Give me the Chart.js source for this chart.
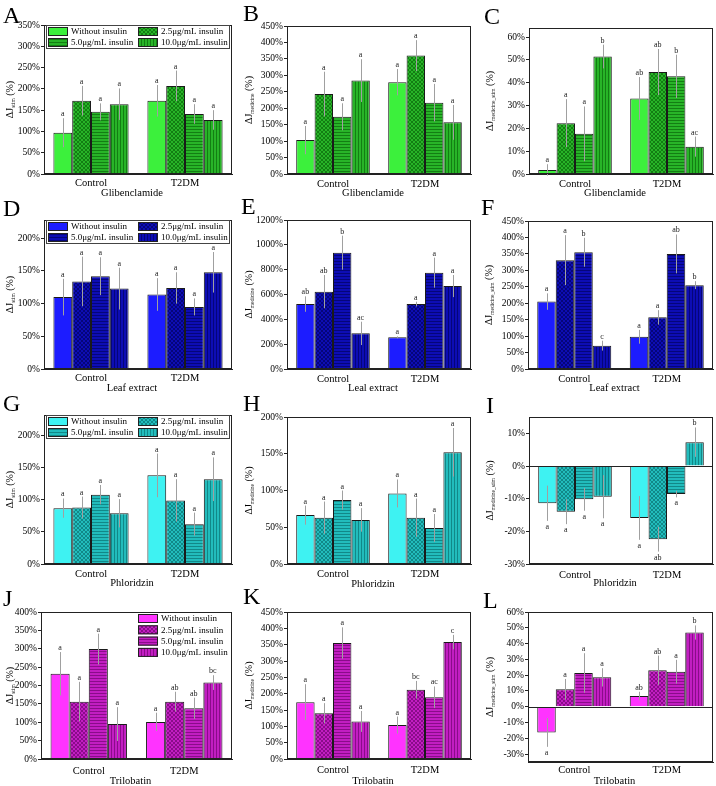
<!DOCTYPE html>
<html lang="en">
<head>
<meta charset="UTF-8">
<title>ΔJ with insulin – four medicines</title>
<script src="https://cdn.jsdelivr.net/npm/chart.js"></script>
<style>
  body { margin: 0; background: #fff; }
  #fig { position: relative; width: 716px; height: 786px; overflow: hidden; }
  #fig canvas { position: absolute; }
  .tag { position: absolute; font-family: 'Liberation Serif', serif; font-size: 24px; line-height: 1; color: #000; }
</style>
</head>
<body>
<div id="fig"></div>
<script>
const categories = ['Control', 'T2DM'];
const seriesNames = ['Without insulin', '2.5μg/mL insulin', '5.0μg/mL insulin', '10.0μg/mL insulin'];

// each array: one row per series, [Control, T2DM]
// Glibenclamide
const gliStim = [[97, 172], [172, 207], [146, 141], [164, 127]];
const gliStimErr = [[34, 37], [35, 36], [20, 23], [37, 23]];
const gliStimSig = [['a', 'a'], ['a', 'a'], ['a', 'a'], ['a', 'a']];
const gliMed = [[103, 279], [243, 360], [174, 217], [284, 157]];
const gliMedErr = [[43, 40], [68, 47], [41, 57], [65, 53]];
const gliMedSig = [['a', 'a'], ['a', 'a'], ['a', 'a'], ['a', 'a']];
const gliMedStim = [[1.8, 33.1], [22.3, 44.7], [17.6, 42.8], [51.5, 12.0]];
const gliMedStimErr = [[2.5, 9.4], [10.5, 10.1], [12, 9.5], [5.2, 4.4]];
const gliMedStimSig = [['a', 'ab'], ['a', 'ab'], ['a', 'b'], ['b', 'ac']];

// Leaf extract
const leafStim = [[110, 114], [134, 124], [142, 95], [123, 148]];
const leafStimErr = [[28, 25], [38, 24], [29, 13], [32, 31]];
const leafStimSig = [['a', 'a'], ['a', 'a'], ['a', 'a'], ['a', 'a']];
const leafMed = [[523, 255], [623, 523], [937, 776], [287, 668]];
const leafMedErr = [[62, 8], [134, 19], [137, 121], [94, 89]];
const leafMedSig = [['ab', 'a'], ['ab', 'a'], ['b', 'a'], ['ac', 'a']];
const leafMedStim = [[205, 98], [331, 157], [355, 350], [71, 255]];
const leafMedStimErr = [[25, 21], [76, 22], [44, 59], [15, 12]];
const leafMedStimSig = [['a', 'a'], ['a', 'a'], ['b', 'ab'], ['c', 'b']];

// Phloridzin
const phlStim = [[87, 138], [88, 99], [108, 62], [79, 132]];
const phlStimErr = [[15, 34], [17, 33], [15, 18], [22, 34]];
const phlStimSig = [['a', 'a'], ['a', 'a'], ['a', 'a'], ['a', 'a']];
const phlMed = [[66.5, 96], [63, 63], [87, 49], [60, 152]];
const phlMedErr = [[13, 19], [22, 26], [13, 19], [16, 33]];
const phlMedSig = [['a', 'a'], ['a', 'a'], ['a', 'a'], ['a', 'a']];
const phlMedStim = [[-11.4, -15.9], [-14, -22.4], [-10.2, -8.6], [-9.4, 7.3]];
const phlMedStimErr = [[5.4, 6.7], [3.8, 3.8], [3.5, 1], [6.6, 4.5]];
const phlMedStimSig = [['a', 'a'], ['a', 'ab'], ['a', 'a'], ['a', 'b']];

// Trilobatin
const triStim = [[232, 101], [156, 156], [299, 138], [95, 208]];
const triStimErr = [[59, 25], [54, 27], [42, 29], [46, 20]];
const triStimSig = [['a', 'a'], ['a', 'ab'], ['a', 'ab'], ['a', 'bc']];
const triMed = [[174, 104], [140, 212], [355, 189], [115, 358]];
const triMedErr = [[55, 26], [31, 27], [48, 33], [32, 22]];
const triMedSig = [['a', 'a'], ['a', 'bc'], ['a', 'ac'], ['a', 'c']];
const triMedStim = [[-16.3, 6.8], [11.0, 23.1], [21.4, 22.2], [18.6, 47.0]];
const triMedStimErr = [[9.1, 2.7], [6.6, 9.3], [12.5, 7.5], [5.8, 4.5]];
const triMedStimSig = [['a', 'ab'], ['a', 'ab'], ['a', 'a'], ['a', 'b']];

const SERIF = '"Liberation Serif", "Times New Roman", serif';

const themes = {
  green:   { plain: '#3cf03c', fill: '#28b428', line: '#137e13' },
  blue:    { plain: '#1c1cff', fill: '#0d0db4', line: '#05057a' },
  cyan:    { plain: '#3ef2f2', fill: '#22bcbc', line: '#118888' },
  magenta: { plain: '#ff33ff', fill: '#c21ec2', line: '#8a0c8a' }
};

// rect = plot frame in page pixels [left, top, right, bottom]
const panels = [
  { tag: 'A', col: 0, row: 0, rect: [44, 25, 232, 174], min: 0, max: 350, step: 50, means: gliStim, errs: gliStimErr, sig: gliStimSig, theme: 'green', sub: 'stim', xTitle: 'Glibenclamide', legend: 'grid', tickOff: 9, titleOff: 19, yTitleX: 9, tagPos: [3, 3] },
  { tag: 'B', col: 1, row: 0, rect: [287, 26, 471, 174], min: 0, max: 450, step: 50, means: gliMed, errs: gliMedErr, sig: gliMedSig, theme: 'green', sub: 'medicine', xTitle: 'Glibenclamide', tickOff: 10, titleOff: 19, yTitleX: 10, tagPos: [243, 1] },
  { tag: 'C', col: 2, row: 0, rect: [529, 28, 713, 174], min: 0, max: 64, step: 10, means: gliMedStim, errs: gliMedStimErr, sig: gliMedStimSig, theme: 'green', sub: 'medicine_stim', xTitle: 'Glibenclamide', tickOff: 10, titleOff: 19, yTitleX: 13, tagPos: [484, 4] },
  { tag: 'D', col: 0, row: 1, rect: [44, 220, 232, 369], min: 0, max: 228, step: 50, means: leafStim, errs: leafStimErr, sig: leafStimSig, theme: 'blue', sub: 'stim', xTitle: 'Leaf extract', legend: 'grid', tickOff: 9, titleOff: 19, yTitleX: 9, tagPos: [3, 196] },
  { tag: 'E', col: 1, row: 1, rect: [287, 220, 471, 369], min: 0, max: 1200, step: 200, means: leafMed, errs: leafMedErr, sig: leafMedSig, theme: 'blue', sub: 'medicine', xTitle: 'Leal extract', tickOff: 10, titleOff: 19, yTitleX: 10, tagPos: [241, 194] },
  { tag: 'F', col: 2, row: 1, rect: [528, 221, 713, 369], min: 0, max: 450, step: 50, means: leafMedStim, errs: leafMedStimErr, sig: leafMedStimSig, theme: 'blue', sub: 'medicine_stim', xTitle: 'Leaf extract', tickOff: 10, titleOff: 19, yTitleX: 12, tagPos: [481, 195] },
  { tag: 'G', col: 0, row: 2, rect: [44, 415, 232, 564], min: 0, max: 232, step: 50, means: phlStim, errs: phlStimErr, sig: phlStimSig, theme: 'cyan', sub: 'stim', xTitle: 'Phloridzin', legend: 'grid', tickOff: 10, titleOff: 19, yTitleX: 9, tagPos: [3, 391] },
  { tag: 'H', col: 1, row: 2, rect: [287, 417, 471, 564], min: 0, max: 200, step: 50, means: phlMed, errs: phlMedErr, sig: phlMedSig, theme: 'cyan', sub: 'medicine', xTitle: 'Phloridzin', tickOff: 10, titleOff: 20, yTitleX: 10, tagPos: [243, 391] },
  { tag: 'I', col: 2, row: 2, rect: [529, 417, 713, 564], min: -30, max: 15, step: 10, means: phlMedStim, errs: phlMedStimErr, sig: phlMedStimSig, theme: 'cyan', sub: 'medicine_stim', xTitle: 'Phloridzin', tickOff: 11, titleOff: 19, yTitleX: 13, tagPos: [486, 393] },
  { tag: 'J', col: 0, row: 3, rect: [41, 612, 232, 759], min: 0, max: 400, step: 50, means: triStim, errs: triStimErr, sig: triStimSig, theme: 'magenta', sub: 'stim', xTitle: 'Trilobatin', legend: 'column', tickOff: 12, titleOff: 22, yTitleX: 9, tagPos: [3, 586] },
  { tag: 'K', col: 1, row: 3, rect: [287, 612, 471, 759], min: 0, max: 450, step: 50, means: triMed, errs: triMedErr, sig: triMedSig, theme: 'magenta', sub: 'medicine', xTitle: 'Trilobatin', tickOff: 11, titleOff: 22, yTitleX: 10, tagPos: [243, 584] },
  { tag: 'L', col: 2, row: 3, rect: [528, 612, 713, 762], min: -35, max: 60, step: 10, means: triMedStim, errs: triMedStimErr, sig: triMedStimSig, theme: 'magenta', sub: 'medicine_stim', xTitle: 'Trilobatin', tickOff: 8, titleOff: 19, yTitleX: 13, tagPos: [483, 588] }
];

const scratch = document.createElement('canvas').getContext('2d');

function tile(kind, fill, line) {
  const n = kind === 'cross' ? 4 : 3;
  const c = document.createElement('canvas');
  c.width = n; c.height = n;
  const g = c.getContext('2d');
  g.fillStyle = fill;
  g.fillRect(0, 0, n, n);
  g.fillStyle = line;
  for (let i = 0; i < n; i++) {
    if (kind === 'horiz') g.fillRect(i, 0, 1, 1);
    else if (kind === 'vert') g.fillRect(0, i, 1, 1);
    else { g.fillRect(i, i, 1, 1); g.fillRect(n - 1 - i, i, 1, 1); }
  }
  return scratch.createPattern(c, 'repeat');
}

function fillsFor(name) {
  const t = themes[name];
  return [t.plain, tile('cross', t.fill, t.line), tile('horiz', t.fill, t.line), tile('vert', t.fill, t.line)];
}

function drawLegend(ctx, a, p, fills) {
  let items;
  ctx.lineWidth = 1;
  if (p.legend === 'grid') {
    ctx.strokeStyle = '#444';
    ctx.strokeRect(a.left + 2.5, a.top + 0.5, a.right - a.left - 5, 23);
    items = seriesNames.map((name, i) => ({ name, i, x: a.left + 4 + (i % 2) * 90, y: a.top + 2 + Math.floor(i / 2) * 11 }));
  } else {
    items = seriesNames.map((name, i) => ({ name, i, x: a.left + 97, y: a.top + 2 + i * 11.3 }));
  }
  ctx.font = '9px ' + SERIF;
  ctx.textAlign = 'left';
  ctx.textBaseline = 'middle';
  items.forEach(it => {
    ctx.fillStyle = fills[it.i];
    ctx.fillRect(it.x, it.y, 20, 9);
    ctx.strokeStyle = '#222';
    ctx.strokeRect(it.x + 0.5, it.y + 0.5, 19, 8);
    ctx.fillStyle = '#000';
    ctx.fillText(it.name, it.x + 23, it.y + 5);
  });
}

function decor(p, fills) {
  return {
    id: 'decor',
    afterDatasetsDraw(chart) {
      const { ctx, chartArea: a, scales: { y } } = chart;
      ctx.save();
      if (p.min < 0) {
        const z = Math.round(y.getPixelForValue(0)) + 0.5;
        ctx.strokeStyle = '#222';
        ctx.lineWidth = 1;
        ctx.beginPath(); ctx.moveTo(a.left, z); ctx.lineTo(a.right, z); ctx.stroke();
      }
      p.means.forEach((vals, i) => {
        chart.getDatasetMeta(i).data.forEach((bar, j) => {
          const v = vals[j], e = p.errs[i][j];
          const bx = Math.round(bar.x) + 0.5;
          const yHi = y.getPixelForValue(v + e), yLo = y.getPixelForValue(v - e);
          ctx.strokeStyle = '#a0a0a0';
          ctx.lineWidth = 1;
          ctx.beginPath(); ctx.moveTo(bx, yLo); ctx.lineTo(bx, yHi); ctx.stroke();
          ctx.fillStyle = '#222';
          ctx.font = '8px ' + SERIF;
          ctx.textAlign = 'center';
          if (v >= 0) { ctx.textBaseline = 'alphabetic'; ctx.fillText(p.sig[i][j], bar.x, yHi - 2); }
          else { ctx.textBaseline = 'top'; ctx.fillText(p.sig[i][j], bar.x, yLo + 2); }
        });
      });
      ctx.restore();
    },
    afterDraw(chart) {
      const { ctx, chartArea: a, scales: { x } } = chart;
      ctx.save();
      ctx.strokeStyle = '#222';
      ctx.lineWidth = 1;
      ctx.strokeRect(a.left + 0.5, a.top + 0.5, a.right - a.left - 1, a.bottom - a.top - 1);

      ctx.fillStyle = '#000';
      ctx.textAlign = 'center';
      ctx.textBaseline = 'middle';
      ctx.font = '10.5px ' + SERIF;
      categories.forEach((c, k) => ctx.fillText(c, x.getPixelForValue(k), a.bottom + p.tickOff));
      ctx.fillText(p.xTitle, (a.left + a.right) / 2 - 6, a.bottom + p.titleOff);

      // rotated y title with subscript
      ctx.save();
      ctx.translate(p.yTitleX, (a.top + a.bottom) / 2);
      ctx.rotate(-Math.PI / 2);
      ctx.textAlign = 'left';
      ctx.textBaseline = 'alphabetic';
      const big = '10px ' + SERIF, small = '5.5px ' + SERIF;
      ctx.font = big;
      const w1 = ctx.measureText('ΔJ').width, w3 = ctx.measureText(' (%)').width;
      ctx.font = small;
      const w2 = ctx.measureText(p.sub).width;
      let sx = -(w1 + w2 + w3) / 2;
      ctx.font = big; ctx.fillText('ΔJ', sx, 3.5); sx += w1;
      ctx.font = small; ctx.fillText(p.sub, sx, 5.5); sx += w2;
      ctx.font = big; ctx.fillText(' (%)', sx, 3.5);
      ctx.restore();

      if (p.legend) drawLegend(ctx, a, p, fills);
      ctx.restore();
    }
  };
}

const fig = document.getElementById('fig');

panels.forEach(p => {
  const x0 = p.col * 238, y0 = p.row * 195;
  const w = p.col === 2 ? 240 : 238, h = p.row === 3 ? 201 : 204;
  const [L, T, R, B] = p.rect;
  const cv = document.createElement('canvas');
  cv.width = w; cv.height = h;
  cv.style.left = x0 + 'px';
  cv.style.top = y0 + 'px';
  fig.appendChild(cv);

  const fills = fillsFor(p.theme);

  new Chart(cv, {
    type: 'bar',
    data: {
      labels: categories,
      datasets: p.means.map((vals, i) => ({
        label: seriesNames[i],
        data: vals,
        backgroundColor: fills[i],
        borderColor: '#1a1a1a',
        borderWidth: 1,
        categoryPercentage: 0.8,
        barPercentage: 1
      }))
    },
    options: {
      responsive: false,
      animation: false,
      devicePixelRatio: 1,
      layout: { padding: { top: T - y0, right: x0 + w - R, left: 0, bottom: 0 } },
      plugins: { legend: { display: false }, tooltip: { enabled: false } },
      scales: {
        x: {
          grid: { display: false },
          border: { color: '#222' },
          ticks: { display: false },
          afterFit: s => { s.height = y0 + h - B; }
        },
        y: {
          min: p.min,
          max: p.max,
          grid: { drawOnChartArea: false, drawTicks: true, tickLength: 3, color: '#222' },
          border: { color: '#222' },
          ticks: {
            stepSize: p.step,
            padding: 1,
            color: '#000',
            font: { family: SERIF, size: 9.5 },
            callback: v => v + '%'
          },
          afterBuildTicks: s => {
            const t = [];
            for (let v = Math.ceil(p.min / p.step) * p.step; v <= p.max + 1e-9; v += p.step) t.push({ value: v });
            s.ticks = t;
          },
          afterFit: s => { s.width = L - x0; }
        }
      }
    },
    plugins: [decor(p, fills)]
  });

  const tag = document.createElement('div');
  tag.className = 'tag';
  tag.textContent = p.tag;
  tag.style.left = p.tagPos[0] + 'px';
  tag.style.top = p.tagPos[1] + 'px';
  fig.appendChild(tag);
});
</script>
</body>
</html>
